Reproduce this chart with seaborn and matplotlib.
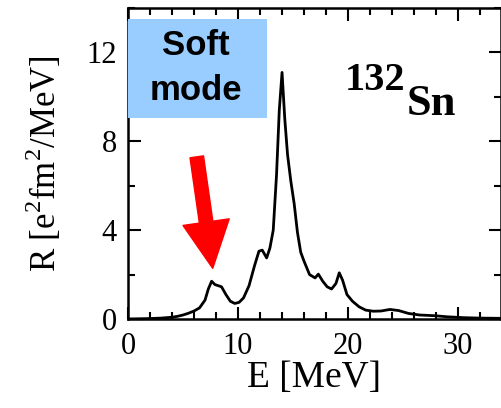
import matplotlib
matplotlib.use("Agg")
import matplotlib.pyplot as plt
import seaborn as sns
import pandas as pd
from matplotlib.ticker import MultipleLocator
from matplotlib.patches import Rectangle

# Data
energy = [0, 1, 2, 3, 4, 4.5, 5, 5.5, 6, 6.5, 7, 7.3, 7.6, 7.9, 8.2, 8.5, 8.9, 9.3, 9.7,
          10.1, 10.5, 11, 11.5, 11.9, 12.2, 12.6, 12.9, 13.2, 13.5, 13.75, 14.0, 14.25,
          14.5, 14.8, 15.1, 15.4, 15.7, 16.0, 16.5, 17.0, 17.3, 17.7, 18.1, 18.5, 18.9,
          19.2, 19.5, 19.9, 20.4, 21.0, 21.6, 22.3, 23.0, 23.8, 24.6, 25.5, 26.5, 27.8,
          29, 30.5, 32, 33.9]
response = [0.0, 0.01, 0.02, 0.04, 0.08, 0.12, 0.18, 0.26, 0.36, 0.5, 0.85, 1.35, 1.7,
            1.55, 1.5, 1.45, 1.1, 0.8, 0.7, 0.75, 0.95, 1.5, 2.4, 3.05, 3.1, 2.75, 3.2,
            4.0, 6.5, 9.4, 11.1, 9.0, 7.4, 6.2, 5.2, 3.9, 3.0, 2.6, 2.0, 1.85, 2.02, 1.7,
            1.45, 1.35, 1.6, 2.08, 1.75, 1.1, 0.8, 0.55, 0.4, 0.35, 0.36, 0.43, 0.38,
            0.25, 0.18, 0.15, 0.1, 0.06, 0.04, 0.03]
x_ticks = [0, 10, 20, 30]
y_ticks = [0, 4, 8, 12]
nucleus_mass = "132"
nucleus_sym = "Sn"
box_lines = ["Soft", "mode"]

df = pd.DataFrame({"E": energy, "R": response})

sns.set_style("ticks")
plt.rcParams["font.family"] = ["Liberation Serif", "DejaVu Serif"]
plt.rcParams["mathtext.fontset"] = "custom"
plt.rcParams["mathtext.rm"] = "Liberation Serif"
plt.rcParams["text.color"] = "black"
plt.rcParams["axes.labelcolor"] = "black"
plt.rcParams["xtick.color"] = "black"
plt.rcParams["ytick.color"] = "black"
plt.rcParams["axes.edgecolor"] = "black"

fig = plt.figure(figsize=(5.02, 4.08), dpi=100)
ax = fig.add_axes([128 / 502, 1 - 319 / 408, 373 / 502, 311 / 408])

sns.lineplot(data=df, x="E", y="R", ax=ax, color="black", linewidth=2.0)

ax.set_xlim(0, 33.9)
ax.set_ylim(0, 14)
ax.set_xticks(x_ticks)
ax.set_yticks(y_ticks)
ax.xaxis.set_minor_locator(MultipleLocator(2))
ax.yaxis.set_minor_locator(MultipleLocator(2))
ax.tick_params(which="both", direction="in", top=True, right=True, width=1.5,
               colors="black", labelsize=22)
ax.tick_params(axis="x", which="both", pad=9)
ax.tick_params(axis="y", which="both", pad=8)
ax.tick_params(which="major", length=9)
ax.tick_params(which="minor", length=5)
for s in ax.spines.values():
    s.set_linewidth(1.8)
    s.set_color("black")

ax.set_xlabel("E [MeV]", fontsize=27, labelpad=0, color="black")
ax.set_ylabel("R [e$^2$fm$^2$/MeV]", fontsize=25, labelpad=16, color="black")

# Soft mode box
ax.add_patch(Rectangle((0, 0.646), 0.372, 0.319, transform=ax.transAxes,
                       facecolor="#99ccff", edgecolor="none", zorder=3, clip_on=False))
for label, yb in zip(box_lines, [0.849, 0.704]):
    ax.text(0.183, yb, label, transform=ax.transAxes, ha="center", va="baseline",
            fontsize=25, fontweight="bold", family=["Liberation Sans", "DejaVu Sans"],
            color="black", zorder=4)

# Nucleus label
ax.text(0.58, 0.735, nucleus_mass, transform=ax.transAxes, fontsize=29,
        fontweight="bold", ha="left", va="baseline", color="black")
ax.text(0.747, 0.655, nucleus_sym, transform=ax.transAxes, fontsize=32,
        fontweight="bold", ha="left", va="baseline", color="black")

# Red arrow
ax.annotate("", xy=(7.7, 2.28), xytext=(6.25, 7.3),
            arrowprops=dict(arrowstyle="simple,head_length=2.4,head_width=2.4,tail_width=0.7",
                            mutation_scale=14, color="red", shrinkA=0, shrinkB=0))

fig.savefig("out.png", dpi=100)
